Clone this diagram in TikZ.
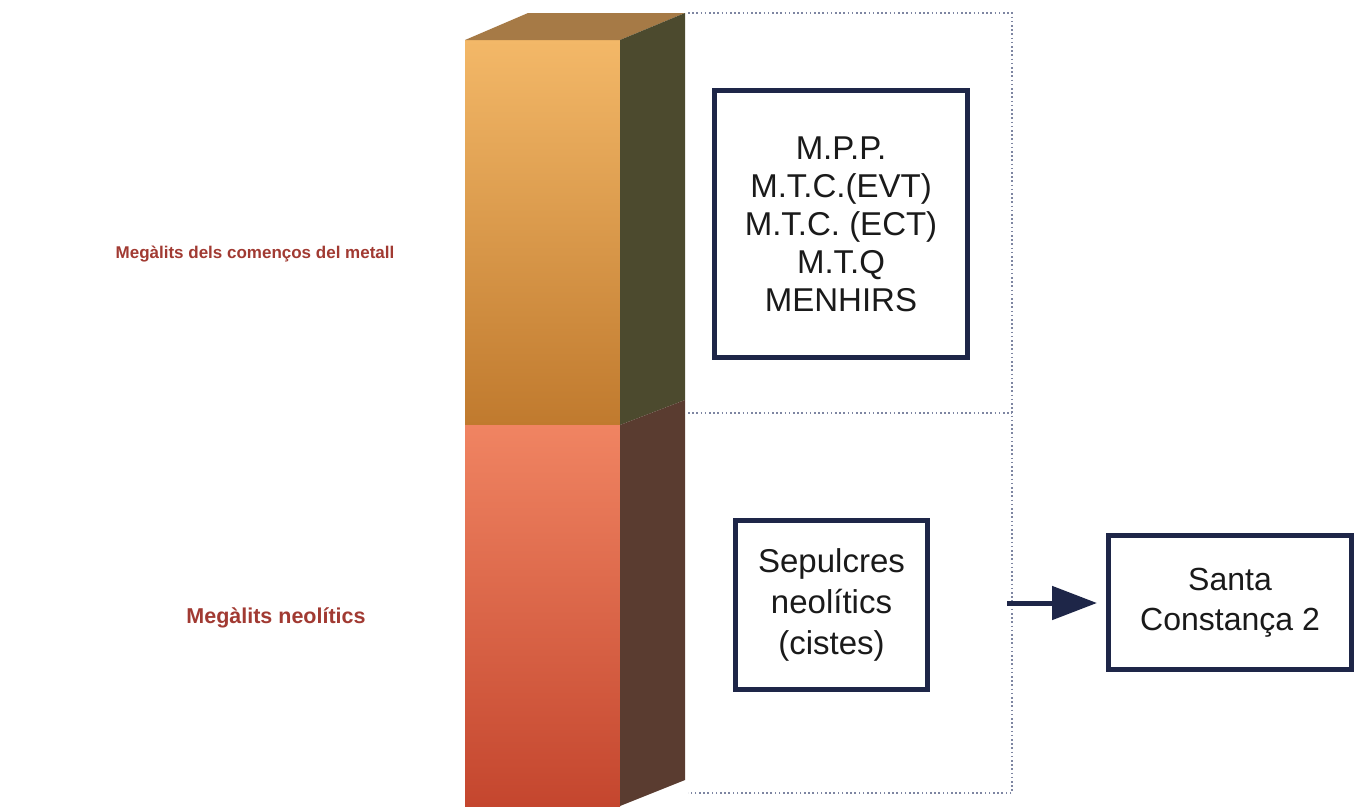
\documentclass[tikz,border=0pt]{standalone}
\usepackage{fontspec}
\setmainfont{Liberation Sans}
\usepackage{xcolor}
\usetikzlibrary{arrows.meta}
\definecolor{navy}{HTML}{1E2648}
\definecolor{ink}{HTML}{1A1A1A}
\definecolor{brick}{HTML}{A13A32}
\definecolor{frameblue}{HTML}{7E86A2}

\begin{document}
\begin{tikzpicture}[x=1pt,y=-1pt]
\tikzstyle{box}=[draw=navy,line width=5pt,fill=white,align=center,text=ink,inner sep=0pt]
\tikzstyle{era}=[text=brick,font=\fontsize{17}{20}\selectfont\bfseries]
\tikzstyle{guide}=[frameblue,line width=1.4pt,dash pattern=on 1.6pt off 2.6pt]
\useasboundingbox (0,0) rectangle (1360,806);
% column
\shade [top color={rgb,255:red,243;green,184;blue,104},bottom color={rgb,255:red,192;green,122;blue,46}] (465,40) rectangle (620,425);
\shade [top color={rgb,255:red,240;green,132;blue,98},bottom color={rgb,255:red,196;green,70;blue,46}] (465,425) rectangle (620,806);
\fill [color={rgb,255:red,166;green,122;blue,70}] (465,40) -- (528,13) -- (685,13) -- (620,40) -- cycle;
\fill [color={rgb,255:red,76;green,74;blue,46}] (620,40) -- (685,13) -- (685,400) -- (620,425) -- cycle;
\fill [color={rgb,255:red,90;green,60;blue,48}] (620,425) -- (685,400) -- (685,780) -- (620,806) -- cycle;
% frame
\draw [guide] (688,13) -- (1012,13) -- (1012,793) -- (688,793);
\draw [guide] (688,413) -- (1012,413);
% labels
\node [era] (metall) at (255,254) {Megàlits dels començos del metall};
\node [era,font=\fontsize{21.5}{24}\selectfont\bfseries] (neol) at (276,618) {Megàlits neolítics};
% boxes
\node [box,minimum width=253,minimum height=267,font=\fontsize{33}{38}\selectfont] (mpp) at (841,224) {M.P.P.\\M.T.C.(EVT)\\M.T.C. (ECT)\\M.T.Q\\MENHIRS};
\node [box,minimum width=192,minimum height=169,font=\fontsize{33}{41}\selectfont] (sep) at (831.5,605) {Sepulcres\\neolítics\\(cistes)};
\node [box,minimum width=243,minimum height=134,font=\fontsize{32}{40}\selectfont] (santa) at (1230,602.5) {Santa\\Constança 2};
\coordinate (gate) at (1007,603);
\draw [-{Triangle[length=45pt,width=33pt]},line width=5pt,navy,shorten >=9pt] (gate) -- (gate -| santa.west);
\end{tikzpicture}
\end{document}
